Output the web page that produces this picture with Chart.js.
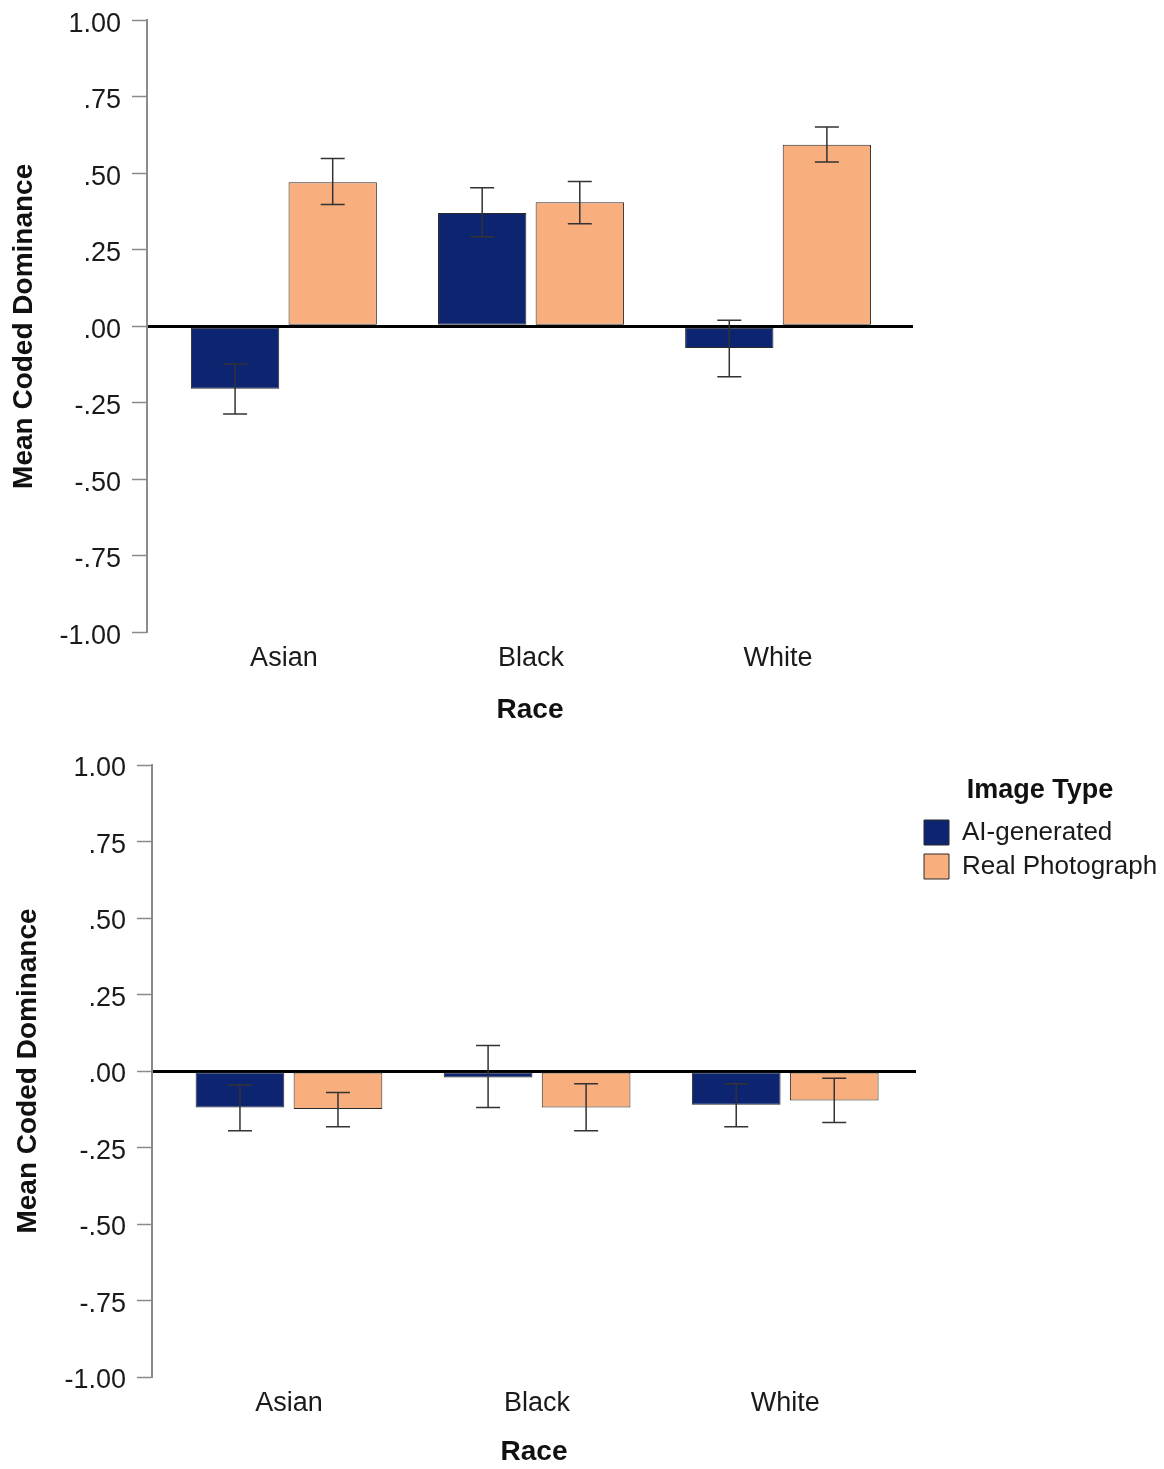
<!DOCTYPE html>
<html>
<head>
<meta charset="utf-8">
<script src="https://cdn.jsdelivr.net/npm/chart.js@4.4.1/dist/chart.umd.min.js"></script>
<style>
  body { margin: 0; background: #fff; }
  #wrap { position: relative; width: 1164px; height: 1469px; overflow: hidden; }
  canvas { position: absolute; left: 0; }
  #upper { top: -7px; }
  #lower { top: 735px; }
</style>
</head>
<body>
<div id="wrap">
  <canvas id="upper" width="1164" height="742"></canvas>
  <canvas id="lower" width="1164" height="734"></canvas>
</div>
<script>
const races = ["Asian", "Black", "White"];
const seriesNames = ["AI-generated", "Real Photograph"];
const yTicks = [-1, -0.75, -0.5, -0.25, 0, 0.25, 0.5, 0.75, 1];
const yTickLabels = ["-1.00", "-.75", "-.50", "-.25", ".00", ".25", ".50", ".75", "1.00"];

// upper panel
const upperAi = [-0.204, 0.370, -0.071];
const upperAiLow = [-0.286, 0.293, -0.165];
const upperAiHigh = [-0.123, 0.453, 0.020];
const upperReal = [0.471, 0.405, 0.593];
const upperRealLow = [0.398, 0.335, 0.537];
const upperRealHigh = [0.548, 0.473, 0.651];

// lower panel
const lowerAi = [-0.119, -0.021, -0.110];
const lowerAiLow = [-0.195, -0.119, -0.182];
const lowerAiHigh = [-0.046, 0.083, -0.042];
const lowerReal = [-0.124, -0.119, -0.096];
const lowerRealLow = [-0.182, -0.195, -0.168];
const lowerRealHigh = [-0.070, -0.042, -0.024];

const FONT = "'Liberation Sans', Arial, sans-serif";
const NAVY = "#0d2570";
const PEACH = "#f8af7d";

// ===== ERROR BARS =====
const errorBars = {
  id: "errorBars",
  afterDatasetsDraw(chart) {
    const ctx = chart.ctx;
    const y = chart.scales.y;
    ctx.save();
    ctx.strokeStyle = "#333";
    ctx.lineWidth = 1.5;
    chart.data.datasets.forEach((ds, di) => {
      chart.getDatasetMeta(di).data.forEach((bar, i) => {
        const top = y.getPixelForValue(ds.errHigh[i]);
        const bot = y.getPixelForValue(ds.errLow[i]);
        ctx.beginPath();
        ctx.moveTo(bar.x, top); ctx.lineTo(bar.x, bot);
        ctx.moveTo(bar.x - 12, top); ctx.lineTo(bar.x + 12, top);
        ctx.moveTo(bar.x - 12, bot); ctx.lineTo(bar.x + 12, bot);
        ctx.stroke();
      });
    });
    ctx.restore();
  }
};

function makeChart(id, ai, aiLo, aiHi, real, realLo, realHi, cfg) {
  return new Chart(document.getElementById(id), {
    type: "bar",
    data: {
      datasets: [{
        label: seriesNames[0],
        data: ai.map((v, i) => ({ x: i + 1, y: v })),
        errLow: aiLo,
        errHigh: aiHi,
        backgroundColor: NAVY,
        borderColor: "#2a2a2a",
        borderWidth: 1,
        borderSkipped: false
      }, {
        label: seriesNames[1],
        data: real.map((v, i) => ({ x: i + 1, y: v })),
        errLow: realLo,
        errHigh: realHi,
        backgroundColor: PEACH,
        borderColor: "#2a2a2a",
        borderWidth: 1,
        borderSkipped: false
      }]
    },
    options: {
      responsive: false,
      animation: false,
      categoryPercentage: 0.79,
      barPercentage: 0.905,
      layout: { padding: cfg.padding },
      plugins: {
        tooltip: { enabled: false },
        legend: cfg.legend
      },
      scales: {
        x: {
          type: "linear",
          min: cfg.xMin,
          max: cfg.xMax,
          offset: false,
          grid: { display: false, drawTicks: false },
          border: { display: false },
          afterBuildTicks: s => { s.ticks = races.map((r, i) => ({ value: i + 1 })); },
          afterFit: s => { s.height = cfg.xHeight; },
          ticks: {
            padding: 10,
            maxRotation: 0,
            font: { family: FONT, size: 27 },
            color: "#1a1a1a",
            callback: v => races[v - 1]
          },
          title: {
            display: true,
            text: "Race",
            font: { family: FONT, size: 28, weight: "bold" },
            color: "#111",
            padding: { top: 0, bottom: cfg.xTitlePad }
          }
        },
        y: {
          min: -1,
          max: 1,
          z: 1,
          afterBuildTicks: s => { s.ticks = yTicks.map(v => ({ value: v })); },
          afterFit: s => { s.width = cfg.yWidth; },
          border: { display: true, color: "#8a8a8a", width: 2 },
          grid: {
            drawTicks: true,
            tickLength: 15,
            tickColor: "#8a8a8a",
            tickWidth: 1.5,
            color: c => c.tick && c.tick.value === 0 ? "#000" : "rgba(0,0,0,0)",
            lineWidth: c => c.tick && c.tick.value === 0 ? 3 : 1
          },
          ticks: {
            padding: 11,
            labelOffset: 4,
            font: { family: FONT, size: 27 },
            color: "#1a1a1a",
            callback: v => yTickLabels[yTicks.indexOf(v)]
          },
          title: {
            display: true,
            text: "Mean Coded Dominance",
            font: { family: FONT, size: 28, weight: "bold" },
            color: "#111",
            padding: { top: cfg.yTitlePad, bottom: 0 }
          }
        }
      }
    },
    plugins: [errorBars]
  });
}

makeChart("upper", upperAi, upperAiLow, upperAiHigh, upperReal, upperRealLow, upperRealHigh, {
  padding: { left: 0, top: 0, right: 251, bottom: 0 },
  legend: { display: false },
  xMin: 0.446, xMax: 3.546,
  xHeight: 102.5, xTitlePad: 8,
  yWidth: 147, yTitlePad: 7
});

makeChart("lower", lowerAi, lowerAiLow, lowerAiHigh, lowerReal, lowerRealLow, lowerRealHigh, {
  padding: { left: 0, top: 30, right: 0, bottom: 0 },
  legend: {
    display: true,
    position: "right",
    align: "start",
    maxWidth: 248,
    title: {
      display: true,
      text: "Image Type",
      font: { family: FONT, size: 27, weight: "bold" },
      color: "#111",
      padding: { top: 12.5, bottom: 1.6 }
    },
    labels: {
      boxWidth: 25,
      boxHeight: 25,
      padding: 8,
      font: { family: FONT, size: 26 },
      color: "#1a1a1a"
    }
  },
  xMin: 0.448, xMax: 3.527,
  xHeight: 92, xTitlePad: 0,
  yWidth: 152, yTitlePad: 11
});
</script>
</body>
</html>
